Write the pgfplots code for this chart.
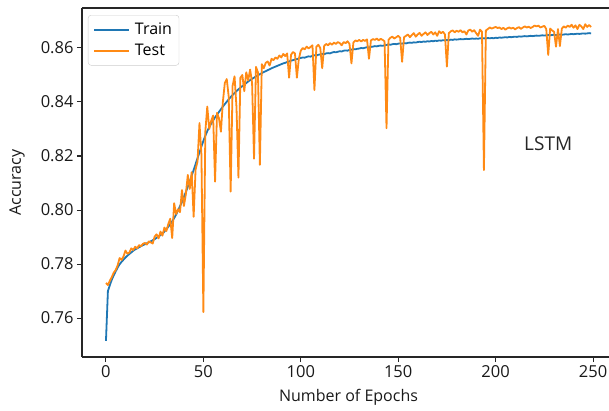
\documentclass[border=0pt]{standalone}
\usepackage{fontspec}
\setmainfont{Open Sans}
\usepackage{pgfplots}
\usepackage{pgfplotstable}
\pgfplotsset{compat=1.18}
\definecolor{mblue}{HTML}{1F77B4}
\definecolor{morange}{HTML}{FF8A14}
\pgfplotstableread{
e train test
0 0.7515 0.7730
1 0.7700 0.7722
2 0.7722 0.7738
3 0.7742 0.7752
4 0.7758 0.7768
5 0.7773 0.7778
6 0.7787 0.7795
7 0.7799 0.7822
8 0.7808 0.7815
9 0.7816 0.7828
10 0.7824 0.7850
11 0.7831 0.7838
12 0.7837 0.7842
13 0.7843 0.7858
14 0.7849 0.7852
15 0.7854 0.7864
16 0.7858 0.7858
17 0.7862 0.7870
18 0.7866 0.7866
19 0.7870 0.7875
20 0.7873 0.7878
21 0.7877 0.7872
22 0.7880 0.7884
23 0.7884 0.7880
24 0.7888 0.7876
25 0.7892 0.7902
26 0.7897 0.7910
27 0.7902 0.7895
28 0.7907 0.7920
29 0.7913 0.7905
30 0.7920 0.7935
31 0.7929 0.7922
32 0.7938 0.7948
33 0.7948 0.7968
34 0.7958 0.7896
35 0.7970 0.8025
36 0.7983 0.7985
37 0.7998 0.8003
38 0.8014 0.7992
39 0.8030 0.8074
40 0.8048 0.8015
41 0.8066 0.8058
42 0.8086 0.8130
43 0.8106 0.8078
44 0.8127 0.8140
45 0.8148 0.7975
46 0.8170 0.8150
47 0.8192 0.8180
48 0.8213 0.8322
49 0.8235 0.8205
50 0.8256 0.7622
51 0.8275 0.8290
52 0.8292 0.8383
53 0.8307 0.8300
54 0.8320 0.8330
55 0.8332 0.8350
56 0.8343 0.8105
57 0.8353 0.8360
58 0.8363 0.8340
59 0.8373 0.8290
60 0.8383 0.8400
61 0.8392 0.8470
62 0.8401 0.8485
63 0.8410 0.8420
64 0.8418 0.8068
65 0.8426 0.8460
66 0.8433 0.8495
67 0.8440 0.8380
68 0.8447 0.8120
69 0.8453 0.8490
70 0.8459 0.8500
71 0.8465 0.8440
72 0.8470 0.8510
73 0.8476 0.8480
74 0.8481 0.8520
75 0.8486 0.8470
76 0.8490 0.8190
77 0.8495 0.8530
78 0.8499 0.8510
79 0.8503 0.8167
80 0.8507 0.8540
81 0.8511 0.8525
82 0.8514 0.8545
83 0.8518 0.8550
84 0.8521 0.8535
85 0.8525 0.8560
86 0.8528 0.8555
87 0.8531 0.8565
88 0.8534 0.8560
89 0.8537 0.8572
90 0.8540 0.8565
91 0.8543 0.8578
92 0.8545 0.8570
93 0.8548 0.8580
94 0.8550 0.8490
95 0.8553 0.8575
96 0.8555 0.8585
97 0.8557 0.8580
98 0.8559 0.8490
99 0.8561 0.8560
100 0.8563 0.8590
101 0.8565 0.8600
102 0.8564 0.8595
103 0.8567 0.8605
104 0.8569 0.8598
105 0.8568 0.8604
106 0.8571 0.8610
107 0.8573 0.8444
108 0.8572 0.8605
109 0.8575 0.8612
110 0.8576 0.8600
111 0.8578 0.8525
112 0.8577 0.8608
113 0.8580 0.8615
114 0.8581 0.8610
115 0.8580 0.8618
116 0.8583 0.8612
117 0.8585 0.8620
118 0.8584 0.8615
119 0.8586 0.8622
120 0.8588 0.8618
121 0.8587 0.8610
122 0.8590 0.8622
123 0.8591 0.8618
124 0.8590 0.8625
125 0.8593 0.8615
126 0.8594 0.8543
127 0.8596 0.8620
128 0.8595 0.8628
129 0.8597 0.8625
130 0.8598 0.8630
131 0.8600 0.8624
132 0.8599 0.8630
133 0.8601 0.8626
134 0.8603 0.8632
135 0.8602 0.8560
136 0.8604 0.8628
137 0.8605 0.8633
138 0.8607 0.8630
139 0.8606 0.8635
140 0.8608 0.8628
141 0.8609 0.8634
142 0.8608 0.8630
143 0.8610 0.8625
144 0.8611 0.8303
145 0.8613 0.8630
146 0.8612 0.8638
147 0.8614 0.8642
148 0.8615 0.8635
149 0.8614 0.8640
150 0.8616 0.8645
151 0.8617 0.8638
152 0.8616 0.8549
153 0.8618 0.8640
154 0.8617 0.8645
155 0.8619 0.8650
156 0.8620 0.8640
157 0.8619 0.8648
158 0.8621 0.8655
159 0.8620 0.8642
160 0.8622 0.8650
161 0.8623 0.8656
162 0.8622 0.8645
163 0.8624 0.8652
164 0.8623 0.8658
165 0.8625 0.8648
166 0.8624 0.8655
167 0.8626 0.8660
168 0.8625 0.8650
169 0.8627 0.8658
170 0.8626 0.8645
171 0.8628 0.8662
172 0.8627 0.8655
173 0.8629 0.8660
174 0.8628 0.8650
175 0.8630 0.8531
176 0.8629 0.8655
177 0.8631 0.8662
178 0.8630 0.8665
179 0.8632 0.8658
180 0.8631 0.8664
181 0.8632 0.8660
182 0.8633 0.8666
183 0.8632 0.8658
184 0.8633 0.8662
185 0.8634 0.8650
186 0.8633 0.8665
187 0.8634 0.8668
188 0.8635 0.8660
189 0.8634 0.8666
190 0.8635 0.8655
191 0.8634 0.8645
192 0.8636 0.8668
193 0.8635 0.8660
194 0.8636 0.8148
195 0.8635 0.8665
196 0.8637 0.8670
197 0.8636 0.8676
198 0.8637 0.8672
199 0.8636 0.8675
200 0.8638 0.8678
201 0.8637 0.8674
202 0.8639 0.8676
203 0.8638 0.8670
204 0.8639 0.8675
205 0.8640 0.8668
206 0.8639 0.8673
207 0.8641 0.8676
208 0.8640 0.8672
209 0.8641 0.8675
210 0.8642 0.8669
211 0.8641 0.8674
212 0.8643 0.8677
213 0.8642 0.8671
214 0.8643 0.8676
215 0.8644 0.8680
216 0.8643 0.8676
217 0.8644 0.8679
218 0.8645 0.8674
219 0.8644 0.8678
220 0.8645 0.8683
221 0.8646 0.8680
222 0.8645 0.8683
223 0.8646 0.8676
224 0.8647 0.8679
225 0.8646 0.8682
226 0.8647 0.8670
227 0.8648 0.8574
228 0.8647 0.8672
229 0.8648 0.8665
230 0.8649 0.8660
231 0.8648 0.8605
232 0.8649 0.8670
233 0.8650 0.8607
234 0.8649 0.8672
235 0.8650 0.8680
236 0.8651 0.8675
237 0.8650 0.8683
238 0.8651 0.8678
239 0.8652 0.8686
240 0.8651 0.8675
241 0.8652 0.8684
242 0.8653 0.8670
243 0.8652 0.8686
244 0.8653 0.8680
245 0.8654 0.8670
246 0.8653 0.8688
247 0.8654 0.8678
248 0.8655 0.8685
249 0.8654 0.8678
}\datatable

\begin{document}
\begin{tikzpicture}
\begin{axis}[
  scale only axis, width=527pt, height=349pt,
  xmin=-12.3, xmax=258.2, ymin=0.74556, ymax=0.87481,
  axis lines*=left,
  axis line style={-, line width=1.1pt, black!85},
  tick align=outside, major tick length=5pt,
  tick style={black!85, line width=1pt},
  xtick={0,50,100,150,200,250},
  ytick={0.76,0.78,0.80,0.82,0.84,0.86},
  /pgf/number format/assume math mode=true,
  yticklabel style={/pgf/number format/.cd, fixed, fixed zerofill, precision=2},
  ticklabel style={font=\fontsize{16.5}{18}\selectfont, text=black!90},
  xlabel={Number of Epochs}, ylabel={Accuracy},
  label style={font=\fontsize{16}{18}\selectfont, text=black!90},
  xlabel style={at={(axis description cs:0.5057,-0.1146)}, anchor=center},
  ylabel style={at={(axis description cs:-0.1233,0.5)}, anchor=center},
  legend style={at={(0,1)}, anchor=north west, xshift=6pt, yshift=-7pt,
    draw=black!20, rounded corners=3pt, fill=white,
    font=\fontsize{16}{18}\selectfont, inner xsep=5pt, inner ysep=6pt,
    row sep=4pt, cells={anchor=west},
    /tikz/every odd column/.style={column sep=3pt}},
  legend image code/.code={\draw[#1, line width=1.8pt] (0pt,0pt) -- (35pt,0pt);},
  clip=false,
]
\addplot[mblue, line width=1.8pt, line join=round] table[x=e, y=train] {\datatable};
\addlegendentry{Train}
\addplot[morange, line width=1.8pt, line join=round] table[x=e, y=test] {\datatable};
\addlegendentry{Test}
\draw[black!85, line width=1.1pt] (rel axis cs:0,1) -- (rel axis cs:1,1);
\node[font=\fontsize{19}{21}\selectfont, text=black!85] at (axis cs:227,0.8244) {LSTM};
\end{axis}
\pgfresetboundingbox
\path[use as bounding box] ([xshift=-82pt,yshift=-53pt]current axis.south west) rectangle ([yshift=8pt]current axis.north east);
\end{tikzpicture}
\end{document}
